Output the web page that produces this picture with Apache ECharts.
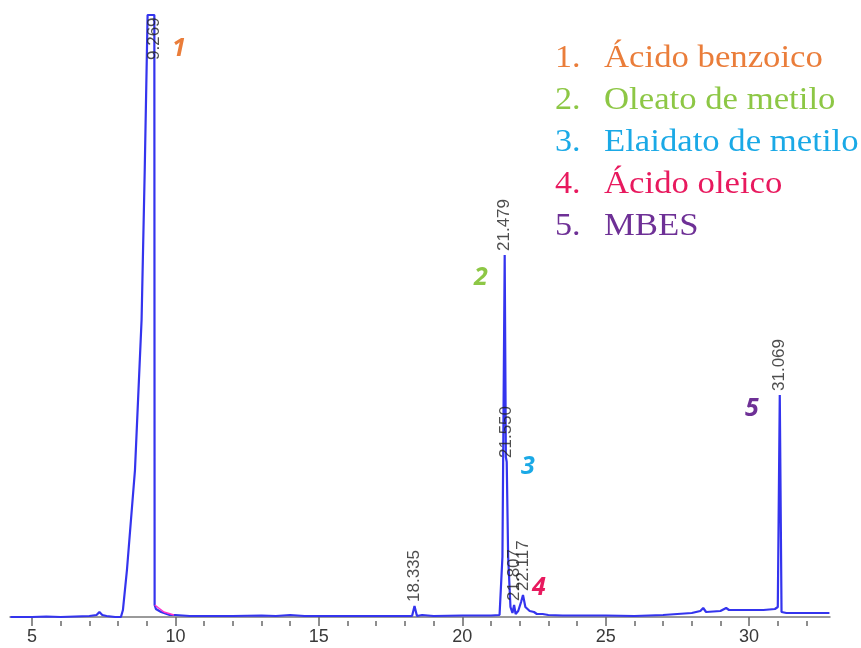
<!DOCTYPE html>
<html>
<head>
<meta charset="utf-8">
<script src="https://cdn.jsdelivr.net/npm/echarts@6/dist/echarts.min.js"></script>
<style>
html,body{margin:0;padding:0;background:#fff;}
#chart{width:861px;height:648px;}
</style>
</head>
<body>
<div id="chart"></div>
<script>
// Chromatogram trace (retention time, min) and detector signal (arbitrary units)
const retentionTime = [4.25, 5.0, 5.5, 6.0, 6.5, 7.0, 7.25, 7.35, 7.45, 7.6, 7.9, 8.1, 8.13, 8.17, 8.31, 8.59, 8.82, 8.93, 9.03, 9.265, 9.275, 9.32, 9.5, 9.8, 10.0, 10.5, 11, 12, 13, 13.5, 14, 14.5, 15, 16, 17, 18, 18.25, 18.335, 18.42, 18.6, 19, 20, 21, 21.3, 21.4, 21.479, 21.52, 21.55, 21.6, 21.68, 21.75, 21.807, 21.86, 21.95, 22.05, 22.117, 22.2, 22.35, 22.5, 22.6, 22.8, 23, 23.5, 24, 25, 26, 27, 27.5, 28, 28.3, 28.4, 28.5, 29, 29.2, 29.3, 29.5, 30, 30.5, 30.9, 31.0, 31.069, 31.13, 31.3, 31.6, 32, 32.5, 32.8];
const intensity = [0, 0, 0.5, 0, 0.5, 1, 2, 5, 2, 1, 0, 0, 0, 7, 47, 147, 297, 447, 602, 602, 12, 8, 5, 2, 2, 1, 1, 1, 1.5, 1, 2, 1, 1, 1, 1, 1, 1, 11, 1, 2, 1, 1.5, 1.5, 2, 60, 362, 160, 155, 60, 10, 4, 12, 3, 6, 15, 22, 10, 6, 5, 3, 3, 2, 1.5, 1.5, 1.5, 1, 2, 3, 4, 6, 9, 5, 6, 9, 7, 7, 7, 7, 8, 10, 222, 5, 4, 4, 4, 4, 4];

// Integration baseline fragment (pink)
const baselineTime = [9.28, 9.6, 9.95];
const baselineValue = [12, 5, 2];

// Labelled peaks
const peakTimes = [9.269, 18.335, 21.479, 21.550, 21.807, 22.117, 31.069];
const peakHeights = [602, 11, 362, 155, 12, 22, 222];

// Axis
const xMajorTicks = [5, 10, 15, 20, 25, 30];
const xMinorTicks = [5, 6, 7, 8, 9, 10, 11, 12, 13, 14, 15, 16, 17, 18, 19, 20, 21, 22, 23, 24, 25, 26, 27, 28, 29, 30, 31, 32];

// Compound legend
const compoundNumbers = ['1.', '2.', '3.', '4.', '5.'];
const compoundNames = ['Ácido benzoico', 'Oleato de metilo', 'Elaidato de metilo', 'Ácido oleico', 'MBES'];
const compoundColors = ['#EA7D3A', '#8DC745', '#1AA9E6', '#E8195E', '#6E3096'];
const peakNumberLabels = ['1', '2', '3', '4', '5'];

const chart = echarts.init(document.getElementById('chart'), null, {renderer: 'canvas'});

const trace = retentionTime.map((t, i) => [t, intensity[i]]);
const pinkTrace = baselineTime.map((t, i) => [t, baselineValue[i]]);
const peaks = peakTimes.map((t, i) => {
  const item = {value: [t, peakHeights[i]]};
  if (i === 0) {
    item.label = {position: 'bottom', distance: 42, offset: [-3, 0]};
  }
  return item;
});

// Legend text positions
const legendTop = 59, legendStep = 42;
const legendFont = '"Liberation Serif", "Times New Roman", serif';
const graphics = [];
compoundNames.forEach((name, i) => {
  const y = legendTop + i * legendStep;
  graphics.push({
    type: 'text', x: 555, y: y, scaleX: 1.1,
    style: {text: compoundNumbers[i], fill: compoundColors[i], fontFamily: legendFont, fontSize: 31, verticalAlign: 'middle', align: 'left'}
  });
  graphics.push({
    type: 'text', x: 604, y: y, scaleX: 1.12,
    style: {text: name, fill: compoundColors[i], fontFamily: legendFont, fontSize: 31, verticalAlign: 'middle', align: 'left'}
  });
});
const numPos = [[172, 49], [474, 278], [521, 467], [532, 588], [745, 409]];
peakNumberLabels.forEach((n, i) => {
  graphics.push({
    type: 'text', x: numPos[i][0], y: numPos[i][1],
    style: {text: n, fill: compoundColors[i], fontFamily: '"Open Sans", "Liberation Sans", sans-serif', fontSize: 25, fontWeight: 'bold', fontStyle: 'italic', verticalAlign: 'middle', align: 'left'}
  });
});

const option = {
  animation: false,
  backgroundColor: '#ffffff',
  grid: {left: 10, right: 31, top: 15, bottom: 27, containLabel: false},
  xAxis: [{
    type: 'value', min: 4.233, max: 32.82,
    axisLine: {show: true, lineStyle: {color: '#7a7a7a', width: 1.5}},
    axisTick: {show: true, customValues: xMajorTicks, length: 9, lineStyle: {color: '#6a6a6a', width: 1.5}},
    axisLabel: {show: true, customValues: xMajorTicks, color: '#3a3a3a', fontSize: 18, fontFamily: '"Liberation Sans", Arial, sans-serif', margin: 7},
    splitLine: {show: false}
  }, {
    type: 'value', min: 4.233, max: 32.82, position: 'bottom',
    axisLine: {show: false},
    axisTick: {show: true, customValues: xMinorTicks, length: 5, lineStyle: {color: '#6a6a6a', width: 1.5}},
    axisLabel: {show: false},
    splitLine: {show: false}
  }],
  yAxis: {type: 'value', min: -4, max: 602, show: false, splitLine: {show: false}},
  series: [{
    type: 'line', xAxisIndex: 0, data: trace, showSymbol: false, symbol: 'none',
    lineStyle: {color: '#3434EE', width: 2.2}, clip: true, z: 3
  }, {
    type: 'line', xAxisIndex: 0, data: pinkTrace, showSymbol: false, symbol: 'none',
    lineStyle: {color: '#FF33CC', width: 1.5}, z: 4
  }, {
    type: 'scatter', xAxisIndex: 0, data: peaks, symbolSize: 0, z: 5,
    label: {
      show: true, position: 'top', distance: 4, rotate: 90, align: 'left', verticalAlign: 'middle',
      color: '#222', fontSize: 17, fontFamily: '"Liberation Sans", Arial, sans-serif',
      formatter: p => p.value[0].toFixed(3)
    }
  }],
  graphic: graphics
};
chart.setOption(option);
</script>
</body>
</html>
